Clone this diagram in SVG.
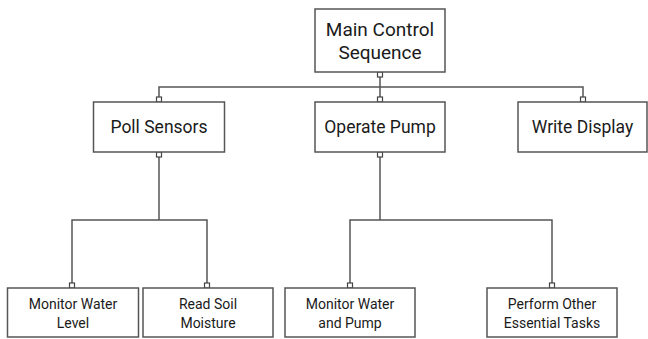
<svg xmlns="http://www.w3.org/2000/svg" width="648" height="339" viewBox="0 0 648 339">
  <style>
    .box { fill: #ffffff; stroke: #555555; stroke-width: 1.5; }
    .wire { fill: none; stroke: #555555; stroke-width: 1.5; }
    .port { fill: #ffffff; stroke: #444444; stroke-width: 1.2; }
    .lbl { font-family: Roboto, "Liberation Sans", sans-serif; fill: #1a1a1a; text-anchor: middle; }
    .l1 { font-size: 19px; }
    .l2 { font-size: 17.5px; }
    .l3 { font-size: 14px; }
  </style>
  <rect width="648" height="339" fill="#ffffff"/>

  <g id="connectors">
    <!-- root to second level -->
    <path class="wire" d="M380 77 V97 M159 97 V87 H583 V97"/>
    <!-- Poll Sensors branch -->
    <path class="wire" d="M159 157 V220 M72 283 V220 H207 V283"/>
    <!-- Operate Pump branch -->
    <path class="wire" d="M380 157 V220 M350 283 V220 H552 V283"/>
    <!-- port squares -->
    <rect class="port" x="377.5" y="72" width="5" height="5"/>
    <rect class="port" x="156.5" y="97" width="5" height="5"/>
    <rect class="port" x="377.5" y="97" width="5" height="5"/>
    <rect class="port" x="580.5" y="97" width="5" height="5"/>
    <rect class="port" x="156.5" y="152" width="5" height="5"/>
    <rect class="port" x="377.5" y="152" width="5" height="5"/>
    <rect class="port" x="69.5" y="283" width="5" height="5"/>
    <rect class="port" x="204.5" y="283" width="5" height="5"/>
    <rect class="port" x="347.5" y="283" width="5" height="5"/>
    <rect class="port" x="549.5" y="283" width="5" height="5"/>
  </g>

  <g id="main-control">
    <rect class="box" x="315" y="9" width="130" height="63"/>
    <text class="lbl l1" x="380" y="36">Main Control</text>
    <text class="lbl l1" x="380" y="59">Sequence</text>
  </g>

  <g id="poll-sensors">
    <rect class="box" x="93.5" y="102" width="131" height="50"/>
    <text class="lbl l2" x="159" y="133">Poll Sensors</text>
  </g>

  <g id="operate-pump">
    <rect class="box" x="315" y="102" width="130" height="50"/>
    <text class="lbl l2" x="380" y="133">Operate Pump</text>
  </g>

  <g id="write-display">
    <rect class="box" x="518" y="102" width="129" height="50"/>
    <text class="lbl l2" x="582.5" y="133">Write Display</text>
  </g>

  <g id="monitor-water-level">
    <rect class="box" x="7.5" y="288" width="131" height="49"/>
    <text class="lbl l3" x="73" y="309">Monitor Water</text>
    <text class="lbl l3" x="73" y="328">Level</text>
  </g>

  <g id="read-soil-moisture">
    <rect class="box" x="143" y="288" width="130" height="49"/>
    <text class="lbl l3" x="208" y="309">Read Soil</text>
    <text class="lbl l3" x="208" y="328">Moisture</text>
  </g>

  <g id="monitor-water-pump">
    <rect class="box" x="285" y="288" width="130" height="49"/>
    <text class="lbl l3" x="350" y="309">Monitor Water</text>
    <text class="lbl l3" x="350" y="328">and Pump</text>
  </g>

  <g id="perform-other-tasks">
    <rect class="box" x="487" y="288" width="130" height="49"/>
    <text class="lbl l3" x="552" y="309">Perform Other</text>
    <text class="lbl l3" x="552" y="328">Essential Tasks</text>
  </g>
</svg>
